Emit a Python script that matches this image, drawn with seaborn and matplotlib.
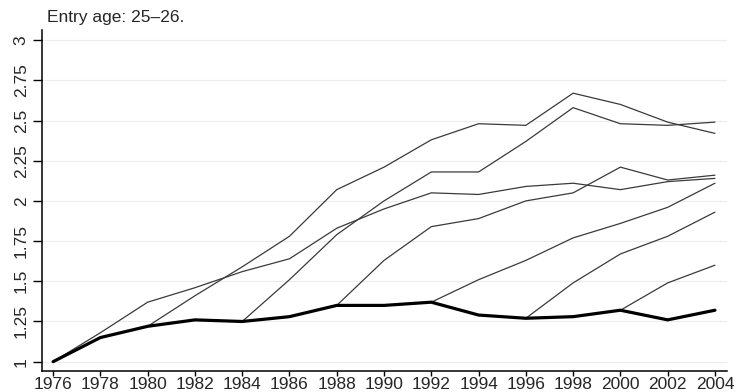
import numpy as np
import pandas as pd
import matplotlib
matplotlib.use("Agg")
import matplotlib.pyplot as plt
import seaborn as sns

# ---- data ----
years = [1976, 1978, 1980, 1982, 1984, 1986, 1988, 1990, 1992, 1994, 1996, 1998, 2000, 2002, 2004]
base = [1.00, 1.15, 1.22, 1.26, 1.25, 1.28, 1.35, 1.35, 1.37, 1.29, 1.27, 1.28, 1.32, 1.26, 1.32]

start_1976 = 1976
cohort_1976 = [1.00, 1.18, 1.37, 1.46, 1.56, 1.64, 1.83, 1.95, 2.05, 2.04, 2.09, 2.11, 2.07, 2.12, 2.14]
start_1980 = 1980
cohort_1980 = [1.22, 1.41, 1.59, 1.78, 2.07, 2.21, 2.38, 2.48, 2.47, 2.67, 2.60, 2.49, 2.42]
start_1984 = 1984
cohort_1984 = [1.25, 1.51, 1.79, 2.00, 2.18, 2.18, 2.37, 2.58, 2.48, 2.47, 2.49]
start_1988 = 1988
cohort_1988 = [1.35, 1.63, 1.84, 1.89, 2.00, 2.05, 2.21, 2.13, 2.16]
start_1992 = 1992
cohort_1992 = [1.37, 1.51, 1.63, 1.77, 1.86, 1.96, 2.11]
start_1996 = 1996
cohort_1996 = [1.27, 1.49, 1.67, 1.78, 1.93]
start_2000 = 2000
cohort_2000 = [1.32, 1.49, 1.60]

y_ticks = [1, 1.25, 1.5, 1.75, 2, 2.25, 2.5, 2.75, 3]
y_tick_labels = ["1", "1.25", "1.5", "1.75", "2", "2.25", "2.5", "2.75", "3"]
title_text = "Entry age: 25\u201326."

cohorts = [
    (start_1976, cohort_1976),
    (start_1980, cohort_1980),
    (start_1984, cohort_1984),
    (start_1988, cohort_1988),
    (start_1992, cohort_1992),
    (start_1996, cohort_1996),
    (start_2000, cohort_2000),
]

rows = []
for start, vals in cohorts:
    yrs = [y for y in years if y >= start][:len(vals)]
    for yr, v in zip(yrs, vals):
        rows.append({"year": yr, "value": v, "cohort": str(start)})
df = pd.DataFrame(rows)
df_base = pd.DataFrame({"year": years, "value": base})

sns.set_theme(style="white")
plt.rcParams["font.family"] = ["Liberation Sans", "DejaVu Sans"]

fig = plt.figure(figsize=(7.36, 3.92), dpi=100)
ax = fig.add_axes([42 / 736, 1 - 371 / 392, (727 - 42) / 736, (371 - 30) / 392])

for c in df["cohort"].unique():
    sub = df[df["cohort"] == c]
    sns.lineplot(data=sub, x="year", y="value", ax=ax, color="#3a3a3a",
                 linewidth=0.9, legend=False)
sns.lineplot(data=df_base, x="year", y="value", ax=ax, color="black",
             linewidth=2.3, legend=False)

ax.set_xlim(1975.53, 2004.51)
ax.set_ylim(0.942, 3.063)
ax.set_xticks(years)
ax.set_xticklabels([str(y) for y in years], fontsize=12.5)
ax.set_yticks(y_ticks)
ax.set_yticklabels(y_tick_labels, fontsize=12.5, rotation=90, va="center")
ax.set_xlabel("")
ax.set_ylabel("")
ax.yaxis.grid(True, color="#ececec", linewidth=0.8)
ax.xaxis.grid(False)
ax.set_axisbelow(True)

for s in ["top", "right"]:
    ax.spines[s].set_visible(False)
for s in ["left", "bottom"]:
    ax.spines[s].set_color("black")
    ax.spines[s].set_linewidth(1.1)

ax.tick_params(axis="y", which="major", direction="out", length=6.5, width=1.0,
               color="black", pad=3, left=True)
ax.tick_params(axis="x", which="major", direction="out", length=3.5, width=1.0,
               color="black", pad=0.5, bottom=True)

fig.text(47 / 736, 1 - 22 / 392, title_text, fontsize=12.5, ha="left", va="baseline")

fig.savefig("out.png", dpi=100, facecolor="white")
